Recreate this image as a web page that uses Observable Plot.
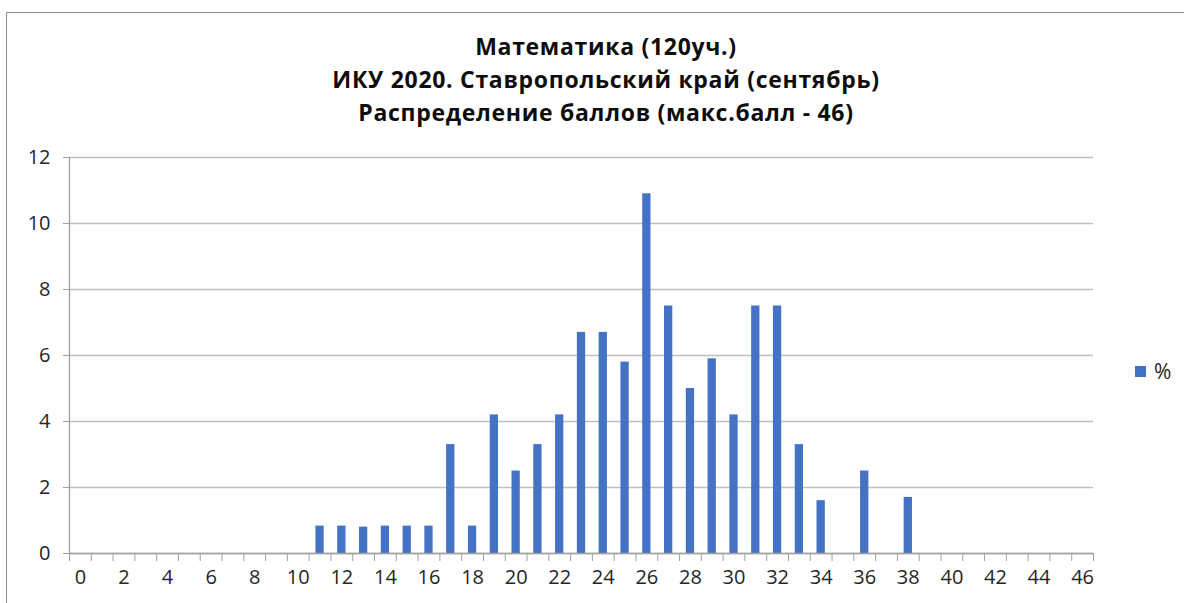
<!DOCTYPE html>
<html>
<head>
<meta charset="utf-8">
<script src="https://cdn.jsdelivr.net/npm/d3@7"></script>
<script src="https://cdn.jsdelivr.net/npm/@observablehq/plot@0.6"></script>
<style>
  html, body { margin: 0; padding: 0; background: #fff; overflow: hidden; }
  #wrap { position: relative; width: 1184px; height: 603px; overflow: hidden; font-family: "Open Sans", sans-serif; }
  #frame { position: absolute; left: 6px; top: 12px; width: 1300px; height: 800px; border-left: 1.5px solid #8c8c8c; border-top: 1.5px solid #8c8c8c; box-sizing: border-box; }
  #title { position: absolute; left: 256px; width: 700px; top: 30px; text-align: center; font-weight: 700; font-size: 23px; letter-spacing: 0.7px; line-height: 33px; color: #0d0d0d; }
  #chart { position: absolute; left: 0; top: 140px; }
  #legend { position: absolute; left: 1135px; top: 357px; font-size: 21px; color: #262626; display: flex; align-items: center; }
  #legend .sw { width: 11px; height: 11px; background: #4472C4; margin-right: 8px; }
</style>
</head>
<body>
<div id="wrap">
  <div id="frame"></div>
  <div id="title">Математика (120уч.)<br>ИКУ 2020. Ставропольский край (сентябрь)<br>Распределение баллов (макс.балл - 46)</div>
  <div id="chart"></div>
  <div id="legend"><span class="sw"></span><span>%</span></div>
</div>
<script>
const scores = [0,1,2,3,4,5,6,7,8,9,10,11,12,13,14,15,16,17,18,19,20,21,22,23,24,25,26,27,28,29,30,31,32,33,34,35,36,37,38,39,40,41,42,43,44,45,46];
const percents = [0,0,0,0,0,0,0,0,0,0,0,0.83,0.83,0.8,0.83,0.83,0.83,3.3,0.83,4.2,2.5,3.3,4.2,6.7,6.7,5.8,10.9,7.5,5.0,5.9,4.2,7.5,7.5,3.3,1.6,0,2.5,0,1.7,0,0,0,0,0,0,0,0];
const xLabelTicks = [0,2,4,6,8,10,12,14,16,18,20,22,24,26,28,30,32,34,36,38,40,42,44,46];
const yTicks = [0,2,4,6,8,10,12];
const seriesName = "%";

const data = scores.map((s, i) => ({score: s, pct: percents[i]}));
const boundaries = scores.map(s => s - 0.5).concat([scores[scores.length - 1] + 0.5]);

const gray = "#a0a0a0";
const chart = Plot.plot({
  width: 1184,
  height: 463,
  marginLeft: 69,
  marginRight: 91,
  marginTop: 17,
  marginBottom: 50,
  style: {fontFamily: "Open Sans, sans-serif", fontSize: "20px", color: "#262626", background: "transparent"},
  x: {type: "linear", domain: [-0.5, 46.5]},
  y: {domain: [0, 12]},
  marks: [
    Plot.gridY(yTicks, {stroke: "#bfbfbf", strokeOpacity: 1, strokeWidth: 1.3}),
    Plot.rectY(data.filter(d => d.pct > 0), {x1: d => d.score - 0.19, x2: d => d.score + 0.19, y1: 0, y2: "pct", fill: "#4472C4"}),
    Plot.ruleY([0], {stroke: gray, strokeWidth: 1.3}),
    Plot.ruleX([-0.5], {stroke: gray, strokeWidth: 1.3}),
    Plot.axisY({ticks: yTicks, tickSize: 6, tickPadding: 13, stroke: gray, label: null, tickFormat: d => String(d)}),
    Plot.axisX({ticks: boundaries, tickSize: 8, tickFormat: () => "", stroke: gray, label: null}),
    Plot.axisX({ticks: xLabelTicks, tickSize: 0, tickPadding: 16, label: null, tickFormat: d => String(d)})
  ]
});
document.getElementById("chart").appendChild(chart);
</script>
</body>
</html>
